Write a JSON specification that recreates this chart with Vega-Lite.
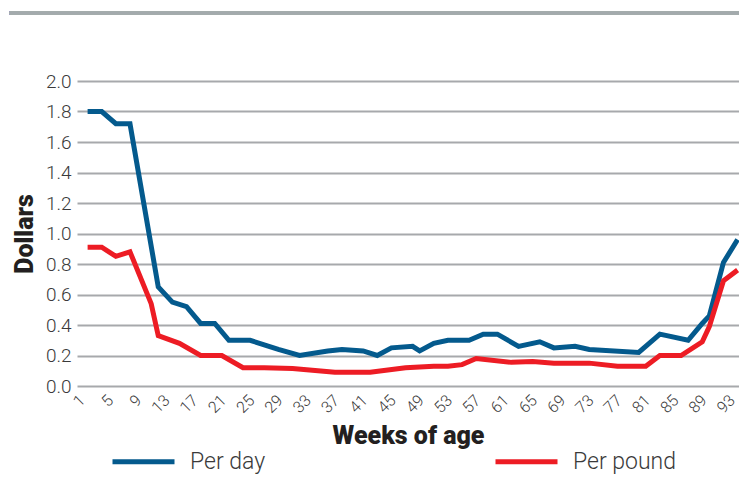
{
  "$schema": "https://vega.github.io/schema/vega-lite/v6.json",
  "width": 662,
  "height": 305,
  "autosize": {"type": "none"},
  "padding": {"left": 77, "top": 81, "right": 0, "bottom": 114},
  "background": "white",
  "config": {"view": {"stroke": null}, "font": "Roboto"},
  "resolve": {"axis": {"x": "independent", "y": "independent"}},
  "data": {
    "values": [
      {"week": 1, "series": "Per day", "value": 1.80},
      {"week": 3, "series": "Per day", "value": 1.80},
      {"week": 5, "series": "Per day", "value": 1.72},
      {"week": 7, "series": "Per day", "value": 1.72},
      {"week": 11, "series": "Per day", "value": 0.65},
      {"week": 13, "series": "Per day", "value": 0.55},
      {"week": 15, "series": "Per day", "value": 0.52},
      {"week": 17, "series": "Per day", "value": 0.41},
      {"week": 19, "series": "Per day", "value": 0.41},
      {"week": 21, "series": "Per day", "value": 0.30},
      {"week": 24, "series": "Per day", "value": 0.30},
      {"week": 28, "series": "Per day", "value": 0.24},
      {"week": 31, "series": "Per day", "value": 0.20},
      {"week": 35, "series": "Per day", "value": 0.23},
      {"week": 37, "series": "Per day", "value": 0.24},
      {"week": 40, "series": "Per day", "value": 0.23},
      {"week": 42, "series": "Per day", "value": 0.20},
      {"week": 44, "series": "Per day", "value": 0.25},
      {"week": 47, "series": "Per day", "value": 0.26},
      {"week": 48, "series": "Per day", "value": 0.23},
      {"week": 50, "series": "Per day", "value": 0.28},
      {"week": 52, "series": "Per day", "value": 0.30},
      {"week": 55, "series": "Per day", "value": 0.30},
      {"week": 57, "series": "Per day", "value": 0.34},
      {"week": 59, "series": "Per day", "value": 0.34},
      {"week": 62, "series": "Per day", "value": 0.26},
      {"week": 65, "series": "Per day", "value": 0.29},
      {"week": 67, "series": "Per day", "value": 0.25},
      {"week": 70, "series": "Per day", "value": 0.26},
      {"week": 72, "series": "Per day", "value": 0.24},
      {"week": 79, "series": "Per day", "value": 0.22},
      {"week": 82, "series": "Per day", "value": 0.34},
      {"week": 86, "series": "Per day", "value": 0.30},
      {"week": 88, "series": "Per day", "value": 0.41},
      {"week": 89, "series": "Per day", "value": 0.46},
      {"week": 91, "series": "Per day", "value": 0.81},
      {"week": 93, "series": "Per day", "value": 0.96},
      {"week": 1, "series": "Per pound", "value": 0.91},
      {"week": 3, "series": "Per pound", "value": 0.91},
      {"week": 5, "series": "Per pound", "value": 0.85},
      {"week": 7, "series": "Per pound", "value": 0.88},
      {"week": 10, "series": "Per pound", "value": 0.54},
      {"week": 11, "series": "Per pound", "value": 0.33},
      {"week": 14, "series": "Per pound", "value": 0.28},
      {"week": 17, "series": "Per pound", "value": 0.20},
      {"week": 20, "series": "Per pound", "value": 0.20},
      {"week": 23, "series": "Per pound", "value": 0.12},
      {"week": 26, "series": "Per pound", "value": 0.12},
      {"week": 30, "series": "Per pound", "value": 0.115},
      {"week": 36, "series": "Per pound", "value": 0.09},
      {"week": 41, "series": "Per pound", "value": 0.09},
      {"week": 46, "series": "Per pound", "value": 0.12},
      {"week": 50, "series": "Per pound", "value": 0.13},
      {"week": 52, "series": "Per pound", "value": 0.13},
      {"week": 54, "series": "Per pound", "value": 0.14},
      {"week": 56, "series": "Per pound", "value": 0.18},
      {"week": 61, "series": "Per pound", "value": 0.155},
      {"week": 64, "series": "Per pound", "value": 0.16},
      {"week": 67, "series": "Per pound", "value": 0.15},
      {"week": 72, "series": "Per pound", "value": 0.15},
      {"week": 76, "series": "Per pound", "value": 0.13},
      {"week": 80, "series": "Per pound", "value": 0.13},
      {"week": 82, "series": "Per pound", "value": 0.20},
      {"week": 85, "series": "Per pound", "value": 0.20},
      {"week": 88, "series": "Per pound", "value": 0.29},
      {"week": 89, "series": "Per pound", "value": 0.39},
      {"week": 91, "series": "Per pound", "value": 0.69},
      {"week": 93, "series": "Per pound", "value": 0.76}
    ]
  },
  "layer": [
    {
      "mark": {"type": "line", "strokeWidth": 5},
      "encoding": {
        "x": {
          "field": "week",
          "type": "quantitative",
          "scale": {"domain": [-0.5, 93.2], "nice": false, "zero": false},
          "axis": {
            "values": [1, 5, 9, 13, 17, 21, 25, 29, 33, 37, 41, 45, 49, 53, 57, 61, 65, 69, 73, 77, 81, 85, 89, 93],
            "labelAngle": -45,
            "labelAlign": "right",
            "labelBaseline": "bottom",
            "grid": false,
            "ticks": false,
            "domain": false,
            "labelFontSize": 16,
            "labelFontWeight": 300,
            "labelColor": "#3a3a3a",
            "labelPadding": 17,
            "labelFlush": false,
            "labelOverlap": false,
            "title": "Weeks of age",
            "titleFontSize": 25,
            "titleFontWeight": 900,
            "titleColor": "#231f20",
            "titlePadding": 8
          }
        },
        "y": {
          "field": "value",
          "type": "quantitative",
          "scale": {"domain": [0, 2], "nice": false},
          "axis": {
            "values": [0, 0.2, 0.4, 0.6, 0.8, 1.0, 1.2, 1.4, 1.6, 1.8, 2.0],
            "format": ".1f",
            "grid": true,
            "gridColor": "#a7a9ac",
            "gridWidth": 2,
            "domain": false,
            "ticks": false,
            "labelFontSize": 19,
            "labelFontWeight": 300,
            "labelColor": "#3a3a3a",
            "labelPadding": 6,
            "labelOverlap": false,
            "title": "Dollars",
            "titleFontSize": 25,
            "titleFontWeight": 900,
            "titleColor": "#231f20",
            "titlePadding": 8
          }
        },
        "color": {
          "field": "series",
          "type": "nominal",
          "scale": {"domain": ["Per day", "Per pound"], "range": ["#045a8d", "#ed1c24"]},
          "legend": {
            "title": null,
            "orient": "none",
            "legendX": 33,
            "legendY": 347,
            "direction": "horizontal",
            "symbolType": "stroke",
            "symbolSize": 3844,
            "symbolStrokeWidth": 5,
            "labelFontSize": 23,
            "labelFontWeight": 300,
            "labelColor": "#3a3a3a",
            "labelOffset": 13,
            "columnPadding": 219
          }
        }
      }
    },
    {
      "mark": {"type": "rule", "clip": false, "color": "#a3aaad", "strokeWidth": 2.5},
      "encoding": {
        "y": {"datum": 2.446, "type": "quantitative", "axis": null},
        "x": {"datum": -10, "type": "quantitative", "axis": null},
        "x2": {"datum": 94}
      }
    }
  ]
}
